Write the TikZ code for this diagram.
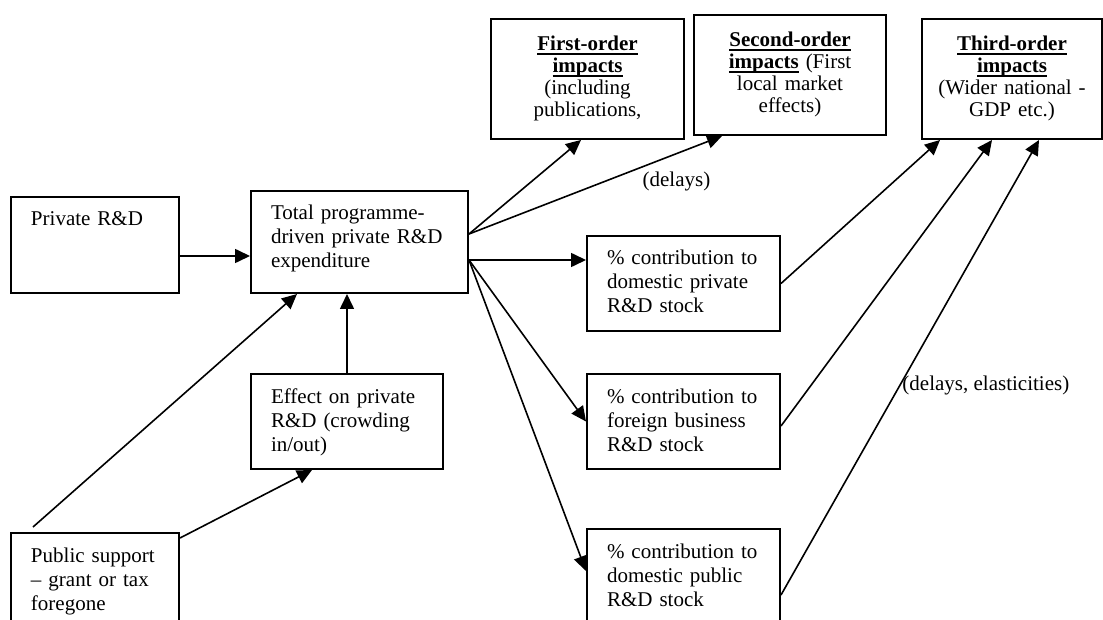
\documentclass[tikz,border=0pt]{standalone}
\usepackage{fontspec}
\setmainfont{Liberation Serif}
\usepackage{tikz}
\usetikzlibrary{arrows.meta}
\usetikzlibrary{calc}
\newcommand\hd[1]{\leavevmode\setbox0\hbox{\textbf{#1}}\rlap{\rule[-1.8pt]{\wd0}{.6pt}}\box0\relax}
\tikzstyle{rdbox}=[draw,line width=1pt,anchor=north west,inner xsep=10pt,inner ysep=0pt,align=left,text height=14.5pt]
\tikzstyle{topbox}=[rdbox,align=center,text height=16pt,font=\fontsize{10.5pt}{11pt}\selectfont]
\tikzstyle{fl}=[line width=.8pt,-{Triangle[length=7.5pt,width=7pt]}]
\tikzstyle{lbl}=[inner sep=1pt]

\begin{document}
\begin{tikzpicture}[x=.5pt,y=-.5pt,font=\fontsize{10.5pt}{12pt}\selectfont]
	\useasboundingbox (0,0) rectangle (1103,620);
	\clip (0,0) rectangle (1103,620);
	\node[rdbox,text width=64pt,text depth=33.5pt] (priv) at (10,196) {Private R\&D};
	\node[rdbox,text width=88.5pt,text depth=36.5pt] (total) at (250,190) {Total programme-\\driven private R\&D\\expenditure};
	\node[rdbox,text width=76pt,text depth=33pt] (effect) at (250,373) {Effect on private\\R\&D (crowding\\in/out)};
	\node[rdbox,text width=64pt,text depth=35.5pt] (public) at (10,532) {Public support\\-- grant or tax\\foregone};
	\node[rdbox,text width=76.5pt,text depth=33pt] (c1) at (586,235) {\% contribution to\\domestic private\\R\&D stock};
	\node[rdbox,text width=76.5pt,text depth=33pt] (c2) at (586,373) {\% contribution to\\foreign business\\R\&D stock};
	\node[rdbox,text width=76.5pt,text depth=33pt] (c3) at (586,528) {\% contribution to\\domestic public\\R\&D stock};
	\node[topbox,text width=76.5pt,text depth=44pt] (first) at (490,18) {\hd{First-order}\\\hd{impacts}\\(including\\publications,};
	\node[topbox,text width=76pt,text depth=44pt] (second) at (693,14) {\hd{Second-order}\\\hd{impacts} (First\\local market\\effects)};
	\node[topbox,inner xsep=5pt,text width=80pt,text depth=44pt] (third) at (921,18) {\hd{Third-order}\\\hd{impacts}\\(Wider national -\\GDP etc.)};
	\draw[fl] ([yshift=-5.5pt]priv.east) -- ([yshift=-5.5pt]priv.east -| total.west);
	\draw[fl] (effect.north) -- (effect.north |- total.south);
	\draw[fl] ($(public.north west)+(23,-5)$) -- ($(total.south west)+(47,0)$);
	\draw[fl] ($(public.north east)+(0,6)$) -- ($(effect.south west)+(62,0)$);
	\draw[fl] ([yshift=-9pt]total.east) -- ([yshift=-9pt]total.east -| c1.west);
	\draw[fl] ([yshift=-9pt]total.east) -- (c2.west);
	\draw[fl] ([yshift=-9pt]total.east) -- ([yshift=2.75pt]c3.west);
	\draw[fl] ([yshift=4pt]total.east) -- ([xshift=-3.25pt]first.south);
	\draw[fl] ([yshift=4pt]total.east) -- node[lbl,pos=.82,yshift=-14pt] {(delays)} ($(second.south west)+(29,0)$);
	\draw[fl] (c1.east) -- ($(third.south west)+(19,0)$);
	\draw[fl] ([yshift=-2.25pt]c2.east) -- ($(third.south west)+(71,0)$);
	\draw[fl] ([yshift=-9.25pt]c3.east) -- node[lbl,pos=.46,anchor=west] {(delays, elasticities)} ($(third.south west)+(118,0)$);
\end{tikzpicture}
\end{document}
